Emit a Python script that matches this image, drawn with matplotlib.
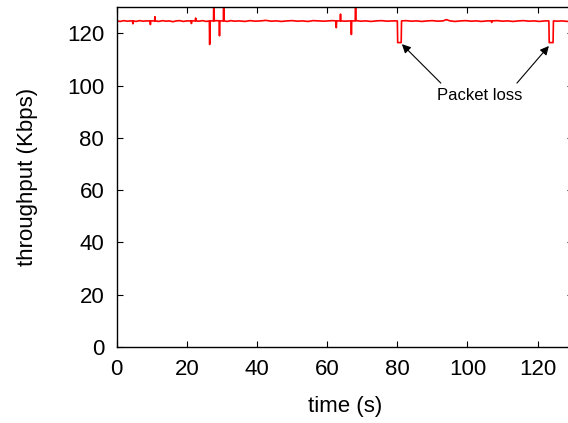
import matplotlib
matplotlib.use("Agg")
import matplotlib.pyplot as plt

plt.rcParams['font.family'] = ['Liberation Sans', 'DejaVu Sans']

# throughput trace (time in s, throughput in Kbps)
time_s = [
    0, 1, 2, 3, 4, 4.5, 4.6, 4.7, 5.5, 6.5,
    7.5, 8.5, 9.5, 9.6, 9.7, 10.8, 10.9, 11.0, 12, 13,
    14, 15, 16, 17, 18, 19, 20, 21.2, 21.3, 21.4,
    22.4, 22.5, 22.6, 23.5, 24.5, 25.5, 26.4, 26.5, 26.6, 27.6,
    27.7, 27.8, 28.5, 29.2, 29.3, 29.4, 30.4, 30.5, 30.6, 31.5,
    32.5, 33.5, 35, 36.5, 38, 39.5, 41, 42.5, 44, 45.5,
    47, 48.5, 50, 51.5, 53, 54.5, 56, 57.5, 59, 60.5,
    61.5, 62.5, 62.6, 62.7, 63.7, 63.8, 63.9, 65, 66.8, 66.9,
    67.0, 68.0, 68.1, 68.2, 69.5, 71, 72.5, 74, 75.5, 77,
    78.5, 80.0, 80.1, 81.1, 81.2, 82.5, 84, 85.5, 87, 88.5,
    90, 91.5, 93, 94, 95, 96.5, 98, 99.5, 101, 102.5,
    104, 105.5, 106.8, 106.9, 107.0, 108.5, 110, 111.5, 113, 114.5,
    116, 117.5, 119, 120.5, 122, 123.2, 123.3, 124.4, 124.5, 125.5,
    127, 128.5, 130,
]
kbps = [
    124.8, 124.6, 124.9, 124.7, 124.8, 124.8, 123.7, 124.8, 124.6, 124.9,
    124.7, 124.8, 124.8, 123.4, 124.8, 124.8, 126.4, 124.8, 124.6, 124.9,
    124.7, 124.8, 124.5, 124.8, 124.9, 124.6, 124.8, 124.8, 123.8, 124.8,
    124.8, 125.9, 124.8, 124.7, 124.9, 124.6, 124.8, 115.8, 124.8, 124.8,
    140.0, 124.8, 124.9, 124.8, 119.1, 124.8, 124.8, 140.0, 124.8, 124.6,
    124.9, 124.7, 124.8, 124.6, 124.9, 124.7, 124.8, 125.0, 124.7, 124.8,
    124.6, 124.8, 124.9, 124.7, 124.8, 124.6, 124.9, 124.8, 124.7, 124.8,
    124.9, 124.8, 122.2, 124.8, 124.8, 127.4, 124.8, 124.7, 124.8, 119.6,
    124.8, 124.8, 140.0, 124.9, 124.7, 124.8, 124.6, 124.8, 124.9, 124.7,
    124.8, 124.8, 116.5, 116.5, 124.8, 124.9, 124.7, 124.8, 124.6, 124.8,
    124.9, 124.7, 124.8, 125.3, 124.8, 124.6, 124.8, 124.9, 124.7, 124.8,
    124.6, 124.8, 124.8, 124.2, 124.8, 124.9, 124.7, 124.8, 124.6, 124.8,
    124.9, 124.7, 124.8, 124.6, 124.8, 124.8, 116.5, 116.5, 124.8, 124.7,
    124.8, 124.6, 124.8,
]

# packet loss annotation: arrow tips and tails
loss_tips_t = [81.3, 123.2]
loss_tips_y = [115.9, 115.2]
loss_tails_t = [92.4, 114.1]
loss_tails_y = [101.0, 101.0]

fig = plt.figure(figsize=(5.68, 4.23), dpi=100)
# right spine sits just past the image edge, as in the original
ax = fig.add_axes([0.2055, 0.1797, 0.8028, 0.803])

ax.plot(time_s, kbps, color='#ff0000', lw=1.2)

ax.set_xlim(0, 130)
ax.set_ylim(0, 130)
ax.set_xticks([0, 20, 40, 60, 80, 100, 120])
ax.set_yticks([0, 20, 40, 60, 80, 100, 120])
ax.tick_params(direction='in', length=4.5, width=0.8, top=True, right=True,
               labelsize=16, pad=9)
for s in ax.spines.values():
    s.set_linewidth(1.0)

for i in range(len(loss_tips_t)):
    ax.annotate('', xy=(loss_tips_t[i], loss_tips_y[i]),
                xytext=(loss_tails_t[i], loss_tails_y[i]),
                arrowprops=dict(arrowstyle='-|>', color='black', lw=0.8,
                                mutation_scale=13, shrinkA=0, shrinkB=0))
ax.text(103.6, 96.4, 'Packet loss', fontsize=12, ha='center', va='center')

fig.text(28 / 568, 1 - 177 / 423, 'throughput (Kbps)', rotation=90,
         ha='center', va='center', fontsize=16)
fig.text(345 / 568, 1 - 406 / 423, 'time (s)', ha='center', va='center',
         fontsize=16)

fig.savefig('out.png', dpi=100)
